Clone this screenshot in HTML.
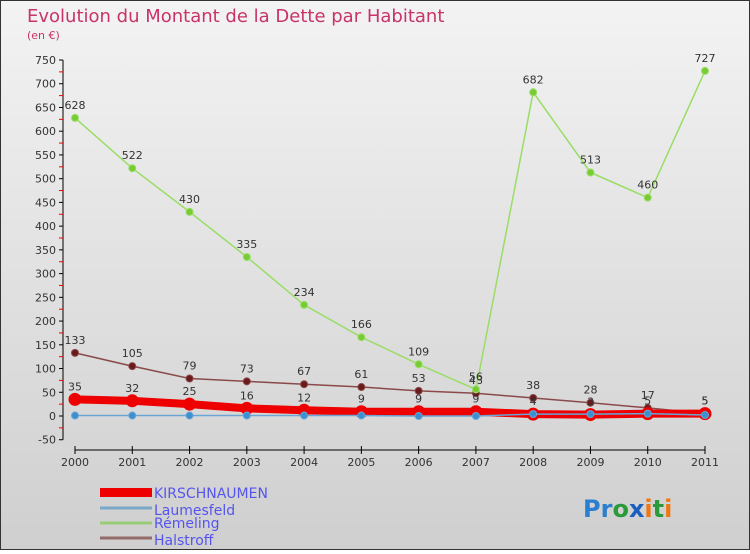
<!DOCTYPE html>
<html><head><meta charset="utf-8"><style>
body{margin:0;background:#fff}
#c{width:750px;height:550px;position:relative;font-family:"DejaVu Sans","Liberation Sans",sans-serif}
text{font-family:"DejaVu Sans","Liberation Sans",sans-serif}
</style></head><body>
<div id="c">
<svg width="750" height="550" id="svg">
<defs><linearGradient id="bg" x1="0" y1="0" x2="0" y2="1"><stop offset="0" stop-color="#f3f3f3"/><stop offset="1" stop-color="#cfcfcf"/></linearGradient></defs>
<rect x="0.5" y="0.5" width="749" height="549" fill="url(#bg)" stroke="#333"/>
<text x="27" y="22" font-size="18" fill="#c8336a">Evolution du Montant de la Dette par Habitant</text>
<text x="27" y="39" font-size="11" fill="#c8336a">(en €)</text>
<g id="axes"></g><g id="series"></g>
<g>
<rect x="100" y="488" width="52" height="9" fill="#e00"/>
<text x="154" y="498" font-size="14" fill="#5555ee">KIRSCHNAUMEN</text>
<line x1="100" y1="508" x2="152" y2="508" stroke="#7aa8c8" stroke-width="3"/>
<text x="154" y="515" font-size="14" fill="#5555ee">Laumesfeld</text>
<line x1="100" y1="523" x2="152" y2="523" stroke="#99cc77" stroke-width="3"/>
<text x="154" y="528" font-size="14" fill="#5555ee">Rémeling</text>
<line x1="100" y1="538" x2="152" y2="538" stroke="#956a6a" stroke-width="3"/>
<text x="154" y="545" font-size="14" fill="#5555ee">Halstroff</text>
</g>
<text x="583" y="517" font-size="24" font-weight="bold"><tspan fill="#2a7fd0">Pr</tspan><tspan fill="#2a9a3a">o</tspan><tspan fill="#1a5fc0">x</tspan><tspan fill="#ee7711">i</tspan><tspan fill="#2a9a3a">t</tspan><tspan fill="#ee7711">i</tspan></text>
</svg></div>
<script>
const years=["2000","2001","2002","2003","2004","2005","2006","2007","2008","2009","2010","2011"];
const yTicks=[-50,0,50,100,150,200,250,300,350,400,450,500,550,600,650,700,750];
const kirsch=[35,32,25,16,12,9,9,9,4,3,5,5];
const laumes=[1,1,1,1,1,1,0,0,4,4,5,2];
const remel=[628,522,430,335,234,166,109,56,682,513,460,727];
const halst=[133,105,79,73,67,61,53,48,38,28,17,5];
const NS="http://www.w3.org/2000/svg";
const xs=i=>75+i*(630/11);
const ys=v=>416-v*(356/750);
function mk(t,a,p){const e=document.createElementNS(NS,t);for(const k in a)e.setAttribute(k,a[k]);p.appendChild(e);return e;}
const ax=document.getElementById('axes'),se=document.getElementById('series');
let l=mk('line',{x1:63,y1:ys(-50),x2:63,y2:ys(750),stroke:'#000'},ax);


yTicks.forEach(v=>{
 const t=mk('text',{x:56,y:ys(v)+4,'font-size':11,'text-anchor':'end',fill:'#333'},ax);t.textContent=v;
 
 
 const k=mk('line',{x1:59,y1:ys(v),x2:63,y2:ys(v),stroke:'#000'},ax);
 
 
 if(v<750){const r=mk('line',{x1:59,y1:ys(v+25),x2:63,y2:ys(v+25),stroke:'#e00'},ax);
 
 }
});
l=mk('line',{x1:75,y1:450,x2:705,y2:450,stroke:'#000'},ax);


years.forEach((y,i)=>{
 const k=mk('line',{x1:xs(i),y1:446,x2:xs(i),y2:454,stroke:'#000'},ax);
 
 
 const t=mk('text',{x:xs(i),y:466,'font-size':11,'text-anchor':'middle',fill:'#333'},ax);t.textContent=y;
 
 
});
function series(d,name,col,w,r,dot,lab){
 const g=mk('g',{},se);
 
 
 const p=mk('polyline',{points:d.map((v,i)=>xs(i)+','+ys(v)).join(' '),fill:'none',stroke:col,'stroke-width':w},g);
 
 
 d.forEach((v,i)=>{
  const c=mk('circle',{cx:xs(i),cy:ys(v),r:r,fill:dot,stroke:col,'stroke-width':1},g);
  
  
  if(lab){const t=mk('text',{x:xs(i),y:ys(v)-9,'font-size':11,'text-anchor':'middle',fill:'#333'},g);t.textContent=v;
  
  }
 });
}
series(halst,'halstroff','#8a4a4a',1.5,3.5,'#6a1a1a',true);
series(remel,'remeling','#99dd66',1.5,3.5,'#77cc33',true);
series(kirsch,'kirschnaumen','#ee0000',8,6,'#ee0000',true);
series(laumes,'laumesfeld','#6aa5d5',1.5,3.5,'#3a90d0',false);
</script>
</body></html>
